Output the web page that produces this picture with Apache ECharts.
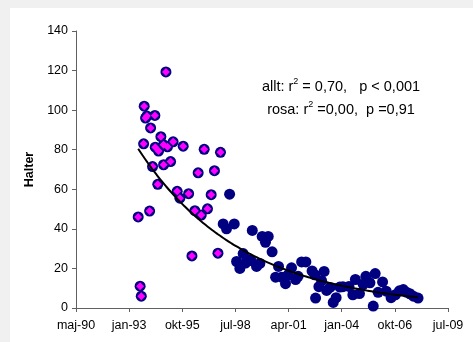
<!DOCTYPE html>
<html><head><meta charset="utf-8">
<script src="https://cdn.jsdelivr.net/npm/echarts@6/dist/echarts.min.js"></script>
<style>
html,body{margin:0;padding:0;background:#f0f0f0;width:473px;height:342px;overflow:hidden}
#c{position:absolute;left:10px;top:8px;width:463px;height:334px;background:#fff}
</style></head><body><div id="c"></div>
<script>
// x values as decimal years, y = Halter
const pinkYears = [1993.54,1993.64,1993.70,1993.82,1993.85,1993.92,1993.99,1994.13,1994.18,1994.28,1994.40,1994.42,1994.55,1994.59,1994.71,1994.85,1994.85,1994.97,1995.05,1995.21,1995.34,1995.55,1995.69,1995.86,1996.14,1996.31,1996.46,1996.63,1996.79,1996.94,1997.11,1997.30,1997.47,1997.65,1997.78];
const pinkValues = [46,11,6,83,102,96,97,49,91,71.5,97.3,81.3,62.5,79.3,86.6,82.5,72.4,119.3,81.5,74,84,59,55.5,81.8,57.8,26.3,49.2,68.3,47,80.2,50.1,57.3,69.4,27.7,78.7];
const navyYears = [1997.92,1998.09,1998.25,1998.49,1998.61,1998.78,1998.95,1999.07,1999.18,1999.35,1999.42,1999.64,1999.81,1999.93,2000.10,2000.24,2000.44,2000.62,2000.77,2000.93,2001.13,2001.27,2001.44,2001.65,2001.78,2001.96,2002.18,2002.50,2002.64,2002.68,2002.85,2002.99,2003.12,2003.25,2003.42,2003.59,2003.74,2003.93,2004.09,2004.40,2004.60,2004.73,2004.94,2005.13,2005.27,2005.48,2005.65,2005.75,2005.90,2006.13,2006.32,2006.57,2006.79,2007.00,2007.20,2007.36,2007.54,2007.72,2007.96];
const navyValues = [42.5,40,57.5,42.5,23.5,20,27.5,22.7,24.5,24,39.2,21,22.5,36.2,33.2,36.2,28.4,15.6,21,15.6,12.3,16.8,20.3,14.4,16,23.3,23.3,18.7,16.8,5,10.8,13.8,18.5,8.9,10.4,2.8,5.2,10.6,10.8,10.9,6.7,14.4,7.3,12,16,12.7,1,17.4,7.9,13.2,8.5,5.2,6.7,8.7,9.3,8,7.2,6,5];
const yTicks = [0,20,40,60,80,100,120,140];
const monthNames = ['jan','feb','mar','apr','maj','jun','jul','aug','sep','okt','nov','dec'];

const BASE = Date.UTC(1990,4,4); // axis start (maj-90), ticks every 1000 days
const DAY = 86400000;
function yearToDay(y){ const yr=Math.floor(y); const start=Date.UTC(yr,0,1), end=Date.UTC(yr+1,0,1); return (start+(y-yr)*(end-start)-BASE)/DAY; }
function dayLabel(d){ const dt=new Date(BASE+d*DAY); return monthNames[dt.getUTCMonth()]+'-'+String(dt.getUTCFullYear()%100).padStart(2,'0'); }

const pinkData = pinkYears.map((y,i)=>[yearToDay(y),pinkValues[i]]);
const navyData = navyYears.map((y,i)=>[yearToDay(y),navyValues[i]]);
// exponential trendline fitted to all points (least squares on ln y)
const all = pinkData.concat(navyData);
let n=all.length,sx=0,sy=0,sxx=0,sxy=0;
all.forEach(p=>{const l=Math.log(p[1]);sx+=p[0];sy+=l;sxx+=p[0]*p[0];sxy+=p[0]*l;});
const b=(n*sxy-sx*sy)/(n*sxx-sx*sx), a=(sy-b*sx)/n;
const x0=Math.min(...all.map(p=>p[0])), x1=Math.max(...all.map(p=>p[0]));
const trend=[]; for(let i=0;i<=60;i++){const x=x0+(x1-x0)*i/60; trend.push([x,Math.exp(a+b*x)]);}

const FONT='Liberation Sans, Arial';
const rich={n:{fontSize:14.5,fontFamily:FONT,color:'#000',verticalAlign:'bottom',lineHeight:17},
            s:{fontSize:9,fontFamily:FONT,color:'#000',verticalAlign:'top',lineHeight:17}};
const chart = echarts.init(document.getElementById('c'));
chart.setOption({
  animation:false,
  backgroundColor:'#fff',
  grid:{left:66,top:23,right:25,bottom:34,containLabel:false},
  xAxis:{type:'value',min:0,max:7000,interval:1000,
    axisLine:{lineStyle:{color:'#606060',width:1}},
    axisTick:{show:true,length:4,lineStyle:{color:'#606060'}},
    axisLabel:{formatter:v=>dayLabel(v),color:'#000',fontFamily:FONT,fontSize:12.5,margin:11,showMinLabel:true,showMaxLabel:true},
    splitLine:{show:false}},
  yAxis:{type:'value',min:yTicks[0],max:yTicks[yTicks.length-1],interval:20,
    name:'Halter',nameLocation:'middle',nameGap:40,nameRotate:90,
    nameTextStyle:{fontWeight:'bold',fontSize:12.5,color:'#000',fontFamily:FONT},
    axisLine:{show:true,lineStyle:{color:'#606060',width:1}},
    axisTick:{show:true,length:4,lineStyle:{color:'#606060'}},
    axisLabel:{color:'#000',fontFamily:FONT,fontSize:12.5,margin:8},
    splitLine:{show:false}},
  series:[
    {type:'scatter',data:navyData,symbol:'circle',symbolSize:11,itemStyle:{color:'#000080',opacity:1},z:2},
    {type:'scatter',data:pinkData,symbol:'circle',symbolSize:11,itemStyle:{color:'#000080',opacity:1},z:3},
    {type:'scatter',data:pinkData,symbol:'diamond',symbolSize:8,itemStyle:{color:'#ff00ff',opacity:1},z:4},
    {type:'line',data:trend,showSymbol:false,smooth:true,lineStyle:{color:'#000',width:2},z:5,silent:true}
  ],
  graphic:[
    {type:'text',x:331,y:69.5,style:{text:'{n|allt: r}{s|2}{n| = 0,70,   p < 0,001}',textAlign:'center',rich:rich}},
    {type:'text',x:331,y:92.5,style:{text:'{n|rosa: r}{s|2}{n| =0,00,  p =0,91}',textAlign:'center',rich:rich}}
  ]
});
</script></body></html>
